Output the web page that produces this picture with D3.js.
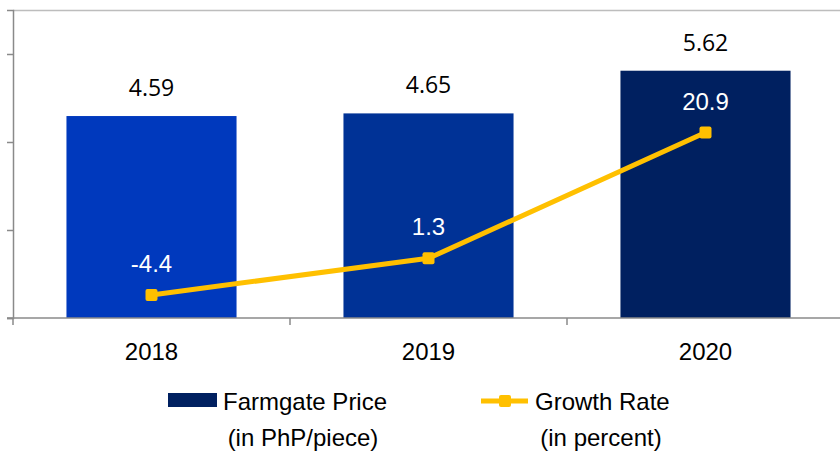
<!DOCTYPE html>
<html>
<head>
<meta charset="utf-8">
<script src="https://cdn.jsdelivr.net/npm/d3@7"></script>
<style>
  body { margin: 0; background: #fff; }
  svg { display: block; }
</style>
</head>
<body>
<div id="chart"></div>
<script>
const years = ["2018", "2019", "2020"];
const prices = [4.59, 4.65, 5.62];
const growth = [-4.4, 1.3, 20.9];
const barColors = ["#0039bd", "#003296", "#002060"];
const priceTicks = [0, 2, 4, 6];

const W = 840, H = 458;
const plot = {left: 13, right: 844, top: 10, bottom: 318};
const font = "'Liberation Sans', Arial, sans-serif";

const svg = d3.select("#chart").append("svg")
  .attr("width", W).attr("height", H);

const x = d3.scaleBand()
  .domain(years)
  .range([plot.left, plot.right])
  .paddingInner(0.386)
  .paddingOuter(0.193);

const y = d3.scaleLinear().domain([0, 7]).range([plot.bottom, plot.top]);
const y2 = d3.scaleLinear().domain([-8, 40]).range([plot.bottom, plot.top]);

// top border
svg.append("line")
  .attr("x1", plot.left).attr("x2", W).attr("y1", plot.top + 0.5).attr("y2", plot.top + 0.5)
  .attr("stroke", "#bdbdbd").attr("stroke-width", 1.5);

// bars
svg.selectAll(".bar")
  .data(years)
  .join("rect")
    .attr("class", "bar")
    .attr("x", d => x(d))
    .attr("y", (d, i) => y(prices[i]))
    .attr("width", x.bandwidth())
    .attr("height", (d, i) => plot.bottom - y(prices[i]))
    .attr("fill", (d, i) => barColors[i]);

// left axis
const yAxis = svg.append("g")
  .attr("transform", `translate(${plot.left},0)`)
  .call(d3.axisLeft(y).tickValues(priceTicks).tickSize(6).tickFormat(""));
yAxis.select(".domain").attr("stroke", "#8a8a8a").attr("stroke-width", 1.5);
yAxis.selectAll(".tick line").attr("stroke", "#8a8a8a").attr("stroke-width", 1.5);

// bottom axis
svg.append("line")
  .attr("x1", plot.left - 6).attr("x2", W).attr("y1", plot.bottom).attr("y2", plot.bottom)
  .attr("stroke", "#8a8a8a").attr("stroke-width", 1.5);
const bounds = years.map(d => x(d) - x.step() * x.paddingInner() / 2).concat([plot.right]);
svg.selectAll(".xtick")
  .data(bounds)
  .join("line")
    .attr("class", "xtick")
    .attr("x1", d => d).attr("x2", d => d)
    .attr("y1", plot.bottom).attr("y2", plot.bottom + 7)
    .attr("stroke", "#8a8a8a").attr("stroke-width", 1.5);

svg.selectAll(".xlabel")
  .data(years)
  .join("text")
    .attr("class", "xlabel")
    .attr("x", d => x(d) + x.bandwidth() / 2)
    .attr("y", 360)
    .attr("text-anchor", "middle")
    .style("font-family", font)
    .style("font-size", "24px")
    .attr("fill", "#000")
    .text(d => d);

// bar value labels
svg.selectAll(".blabel")
  .data(years)
  .join("text")
    .attr("class", "blabel")
    .attr("x", d => x(d) + x.bandwidth() / 2)
    .attr("y", (d, i) => y(prices[i]) - 20)
    .attr("text-anchor", "middle")
    .style("font-family", "'Open Sans', sans-serif")
    .style("font-size", "23px")
    .attr("fill", "#000")
    .text((d, i) => prices[i].toFixed(2));

// growth line
const cx = d => x(d) + x.bandwidth() / 2;
const line = d3.line()
  .x(d => cx(d))
  .y((d, i) => y2(growth[i]));

svg.append("path")
  .datum(years)
  .attr("d", line)
  .attr("fill", "none")
  .attr("stroke", "#ffc000")
  .attr("stroke-width", 5)
  .attr("stroke-linejoin", "round");

svg.selectAll(".marker")
  .data(years)
  .join("rect")
    .attr("class", "marker")
    .attr("x", d => cx(d) - 6)
    .attr("y", (d, i) => y2(growth[i]) - 6)
    .attr("width", 12).attr("height", 12)
    .attr("rx", 2)
    .attr("fill", "#ffc000");

svg.selectAll(".glabel")
  .data(years)
  .join("text")
    .attr("class", "glabel")
    .attr("x", d => cx(d))
    .attr("y", (d, i) => y2(growth[i]) - 23)
    .attr("text-anchor", "middle")
    .style("font-family", font)
    .style("font-size", "24px")
    .attr("fill", "#fff")
    .text((d, i) => growth[i].toFixed(1));

// legend
svg.append("rect")
  .attr("x", 168).attr("y", 393).attr("width", 49).attr("height", 14)
  .attr("fill", "#002060");
svg.append("text")
  .attr("x", 223).attr("y", 410)
  .style("font-family", font).style("font-size", "24px")
  .text("Farmgate Price");
svg.append("text")
  .attr("x", 303).attr("y", 446).attr("text-anchor", "middle")
  .style("font-family", font).style("font-size", "24px")
  .text("(in PhP/piece)");

svg.append("line")
  .attr("x1", 481).attr("x2", 528).attr("y1", 401).attr("y2", 401)
  .attr("stroke", "#ffc000").attr("stroke-width", 5);
svg.append("rect")
  .attr("x", 499).attr("y", 395).attr("width", 12).attr("height", 12)
  .attr("rx", 2).attr("fill", "#ffc000");
svg.append("text")
  .attr("x", 535).attr("y", 410)
  .style("font-family", font).style("font-size", "24px")
  .text("Growth Rate");
svg.append("text")
  .attr("x", 601).attr("y", 446).attr("text-anchor", "middle")
  .style("font-family", font).style("font-size", "24px")
  .text("(in percent)");
</script>
</body>
</html>
